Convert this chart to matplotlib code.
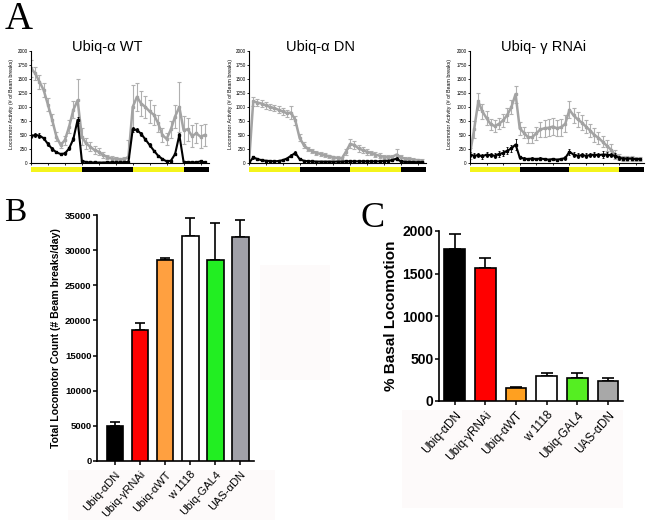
import numpy as np
import matplotlib
matplotlib.use('Agg')
import matplotlib.pyplot as plt
from matplotlib.patches import Rectangle

plt.rcParams['font.family'] = ['Liberation Sans', 'DejaVu Sans']

# ---------------- data: panel A (hourly activity) ----------------
hours = np.arange(42)

wt_grey = [1690, 1600, 1450, 1300, 1040, 770, 470, 320, 410, 650, 950, 1120, 470, 350,
           290, 230, 200, 140, 110, 80, 80, 65, 65, 110, 1000, 1180, 1060, 1000, 920, 860,
           710, 500, 430, 600, 830, 1000, 590, 600, 480, 530, 470, 500]
wt_grey_err = [150, 120, 130, 120, 120, 100, 80, 60, 80, 120, 150, 380, 150, 100, 80, 70,
               60, 50, 40, 40, 30, 30, 40, 300, 400, 250, 220, 200, 200, 180, 150, 120, 100,
               150, 200, 450, 250, 200, 200, 180, 200, 200]
wt_black = [480, 500, 490, 440, 340, 250, 190, 160, 170, 260, 430, 770, 40, 15, 10, 10, 8,
            8, 10, 12, 10, 10, 12, 20, 600, 590, 520, 420, 320, 220, 130, 70, 30, 40, 160,
            500, 20, 15, 12, 10, 30, 10]
wt_black_err = [40, 40, 40, 30, 30, 30, 20, 20, 20, 30, 40, 60, 10, 5, 5, 5, 5, 5, 5, 5, 5,
                5, 5, 10, 50, 40, 40, 30, 30, 20, 20, 10, 10, 10, 20, 40, 10, 5, 5, 5, 15, 5]

dn_grey = [0, 1100, 1080, 1060, 1030, 1000, 980, 950, 920, 890, 900, 760, 450, 320, 250,
           210, 180, 160, 140, 120, 100, 90, 80, 200, 340, 320, 260, 230, 200, 180, 150,
           130, 110, 100, 110, 150, 100, 80, 70, 60, 50, 40]
dn_grey_err = [0, 80, 60, 60, 60, 60, 60, 60, 60, 60, 120, 80, 60, 50, 40, 40, 40, 35, 30,
               30, 30, 30, 30, 50, 80, 70, 60, 50, 50, 40, 40, 40, 40, 40, 40, 100, 40, 30,
               30, 30, 30, 30]
dn_black = [0, 100, 70, 50, 40, 35, 30, 35, 50, 80, 130, 180, 70, 40, 30, 30, 25, 25, 25,
            25, 25, 25, 25, 30, 30, 30, 30, 30, 30, 30, 30, 30, 35, 40, 50, 80, 30, 20, 20,
            15, 15, 15]
dn_black_err = [0, 20, 15, 10, 10, 10, 10, 10, 10, 15, 30, 40, 15, 10, 5, 5, 5, 5, 5, 5, 5,
                5, 5, 5, 5, 5, 5, 5, 5, 5, 5, 5, 5, 10, 10, 30, 5, 5, 5, 5, 5, 5]

ri_grey = [170, 600, 1100, 920, 800, 690, 660, 700, 760, 860, 1000, 1230, 620, 540, 460,
           460, 530, 600, 620, 630, 650, 620, 640, 700, 950, 850, 780, 720, 650, 580, 500,
           450, 380, 310, 240, 150, 110, 80, 80, 80, 70, 70]
ri_grey_err = [100, 150, 150, 130, 120, 100, 100, 100, 110, 120, 130, 150, 120, 100, 100,
               100, 120, 130, 150, 150, 150, 140, 150, 150, 150, 140, 130, 130, 120, 120, 120,
               110, 100, 100, 100, 80, 50, 40, 40, 40, 40, 40]
ri_black = [150, 130, 140, 120, 150, 140, 130, 160, 180, 220, 260, 330, 100, 80, 70, 80, 70,
            80, 70, 60, 70, 60, 70, 90, 200, 150, 130, 140, 130, 140, 150, 140, 150, 150,
            140, 130, 90, 80, 80, 80, 70, 70]
ri_black_err = [50, 40, 40, 40, 50, 40, 40, 50, 50, 60, 70, 90, 30, 20, 20, 20, 20, 20, 20,
                20, 20, 20, 20, 30, 50, 40, 40, 40, 40, 40, 40, 40, 60, 50, 40, 40, 30, 20,
                20, 20, 20, 20]

a_titles = ['Ubiq-α WT', 'Ubiq-α DN', 'Ubiq- γ RNAi']
a_ylabel = 'Locomotor Activity (# of Beam breaks)'
light_bounds = [0, 12, 24, 36, 42]
light_states = ['light', 'dark', 'light', 'dark']

# ---------------- data: panels B and C ----------------
genotypes = ['Ubiq-αDN', 'Ubiq-γRNAi', 'Ubiq-αWT', 'w 1118', 'Ubiq-GAL4', 'UAS-αDN']
total_counts = [4990, 18620, 28540, 32060, 28640, 31870]
total_err = [570, 950, 380, 2560, 5270, 2420]
basal_pct = [1790, 1570, 150, 300, 265, 240]
basal_err = [175, 115, 15, 30, 70, 25]

colors_b = ['#000000', '#ff0000', '#ffa040', '#ffffff', '#22ee22', '#a0a0a8']
colors_c = ['#000000', '#ff0000', '#ffa020', '#ffffff', '#55ee22', '#a8a8a8']

# ---------------- figure ----------------
W, H = 661, 523
fig = plt.figure(figsize=(W / 100, H / 100), dpi=100)
fig.patch.set_facecolor('white')


def axes_px(l, t, r, b):
    return fig.add_axes([l / W, 1 - b / H, (r - l) / W, (b - t) / H])


# faint background artefacts (behind everything)
for (l, t, r, b) in [(260, 265, 330, 380), (68, 470, 275, 520), (402, 410, 623, 508)]:
    fig.patches.append(Rectangle((l / W, 1 - b / H), (r - l) / W, (b - t) / H,
                                 transform=fig.transFigure, facecolor='#fdfafa',
                                 edgecolor='none', zorder=-5))

a_boxes = [(31, 51, 209, 163), (249, 51, 426, 163), (470, 51, 644, 163)]
a_series = [(wt_grey, wt_grey_err, wt_black, wt_black_err),
            (dn_grey, dn_grey_err, dn_black, dn_black_err),
            (ri_grey, ri_grey_err, ri_black, ri_black_err)]
title_x = [107, 321, 544]
ylabel_x = [12, 231, 450]

for box, (g, ge, k, ke), ttl, tx, lx in zip(a_boxes, a_series, a_titles, title_x, ylabel_x):
    ax = axes_px(*box)
    ax.patch.set_alpha(0)
    ax.errorbar(hours, g, yerr=ge, color='#a3a3a3', ecolor='#b0b0b0', elinewidth=0.8,
                capsize=1.4, capthick=0.8, lw=1.8, marker='s', ms=2.0, zorder=2)
    ax.errorbar(hours, k, yerr=ke, color='black', ecolor='black', elinewidth=0.6,
                capsize=1.0, capthick=0.6, lw=1.5, marker='s', ms=1.5, zorder=3)
    ax.set_xlim(0, 42)
    ax.set_ylim(0, 2000)
    ax.set_yticks(np.arange(0, 2001, 250))
    ax.set_xticks(np.arange(0, 43, 4))
    ax.set_xticklabels([])
    ax.tick_params(axis='both', labelsize=3.3, length=1.5, width=0.6, pad=0.8)
    for s in ['top', 'right']:
        ax.spines[s].set_visible(False)
    for s in ['left', 'bottom']:
        ax.spines[s].set_linewidth(0.8)
    for i, st in enumerate(light_states):
        ax.add_patch(Rectangle((light_bounds[i], -165), light_bounds[i + 1] - light_bounds[i], 90,
                               facecolor='#f4f41c' if st == 'light' else 'black',
                               edgecolor='none', clip_on=False, transform=ax.transData))
    fig.text(tx / W, 1 - 47 / H, ttl, ha='center', va='center', fontsize=10.5)
    fig.text(lx / W, 1 - 104 / H, a_ylabel, rotation=90, ha='center', va='center',
             fontsize=3.8)

# ---------------- panel B ----------------
axb = axes_px(97, 215, 254, 461)
axb.patch.set_alpha(0)
xb = np.arange(len(genotypes))
axb.bar(xb, total_counts, width=0.66, color=colors_b, edgecolor='black', linewidth=1.2,
        zorder=3)
axb.errorbar(xb, total_counts, yerr=[np.zeros(len(xb)), total_err], fmt='none',
             ecolor='black', elinewidth=1.2, capsize=3.5, capthick=1.2, zorder=2)
axb.set_xlim(-0.72, 5.54)
axb.set_ylim(0, 35000)
axb.set_yticks(np.arange(0, 35001, 5000))
axb.set_xticks(xb)
axb.set_xticklabels(genotypes, rotation=48, ha='right', rotation_mode='anchor', fontsize=8)
for lab in axb.get_yticklabels():
    lab.set_fontweight('bold')
axb.tick_params(axis='y', labelsize=6.8, length=3, width=1.1, pad=1)
axb.tick_params(axis='x', length=3, width=1.1, pad=3)
for s in ['top', 'right']:
    axb.spines[s].set_visible(False)
for s in ['left', 'bottom']:
    axb.spines[s].set_linewidth(1.2)
axb.set_ylabel('Total Locomotor Count (# Beam breaks/day)', fontsize=7.6,
               fontweight='bold', labelpad=3)

# ---------------- panel C ----------------
axc = axes_px(439, 231, 623, 401)
axc.patch.set_alpha(0)
xc = np.arange(len(genotypes))
axc.bar(xc, basal_pct, width=0.68, color=colors_c, edgecolor='black', linewidth=1.2,
        zorder=3)
axc.errorbar(xc, basal_pct, yerr=[np.zeros(len(xc)), basal_err], fmt='none',
             ecolor='black', elinewidth=1.2, capsize=4, capthick=1.2, zorder=2)
axc.set_xlim(-0.51, 5.49)
axc.set_ylim(0, 2000)
axc.set_yticks(np.arange(0, 2001, 500))
axc.set_xticks(xc)
axc.set_xticklabels(genotypes, rotation=48, ha='right', rotation_mode='anchor', fontsize=8.5)
for lab in axc.get_yticklabels():
    lab.set_fontweight('bold')
axc.tick_params(axis='y', labelsize=10, length=3, width=1.1, pad=1)
axc.tick_params(axis='x', length=3, width=1.1, pad=3)
for s in ['top', 'right']:
    axc.spines[s].set_visible(False)
for s in ['left', 'bottom']:
    axc.spines[s].set_linewidth(1.2)
axc.set_ylabel('% Basal Locomotion', fontsize=11, fontweight='bold', labelpad=3)

# ---------------- panel letters ----------------
serif = ['Liberation Serif', 'DejaVu Serif']
fig.text(5 / W, 1 - 29 / H, 'A', family=serif, fontsize=28, va='baseline', ha='left')
fig.text(4 / W, 1 - 221 / H, 'B', family=serif, fontsize=24, va='baseline', ha='left')
fig.text(361 / W, 1 - 227 / H, 'C', family=serif, fontsize=26, va='baseline', ha='left')

fig.savefig('out.png', dpi=100, facecolor='white')
